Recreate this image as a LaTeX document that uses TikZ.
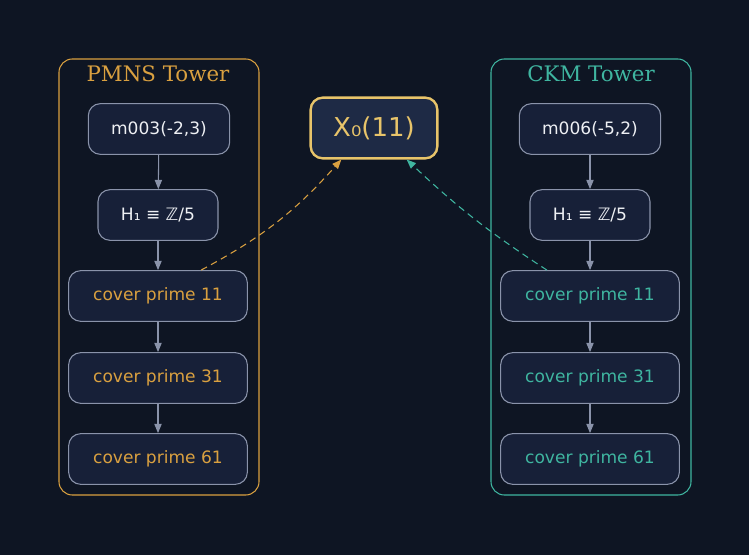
\documentclass[tikz,border=0pt]{standalone}
\usepackage{fontspec}
\setmainfont{DejaVu Sans}
\newfontfamily\titlefont{DejaVu Serif}
\usetikzlibrary{arrows.meta}

\definecolor{bgdark}{HTML}{0E1523}
\definecolor{boxfill}{HTML}{172038}
\definecolor{boxline}{HTML}{8A93AA}
\definecolor{pmnsorange}{HTML}{D9A040}
\definecolor{ckmteal}{HTML}{3FB5A0}
\definecolor{xgold}{HTML}{E8C46A}
\definecolor{xfill}{HTML}{1E2A45}
\definecolor{textwhite}{HTML}{EEF0F4}

\begin{document}
\begin{tikzpicture}[
    x=0.75pt, y=-0.75pt,
    box/.style={rectangle, rounded corners=9pt, draw=boxline, line width=0.8pt, fill=boxfill,
        minimum height=38pt, inner sep=0pt, font=\fontsize{12.8}{15}\selectfont},
    cluster/.style={rounded corners=10pt, line width=0.8pt},
    title/.style={font=\titlefont\fontsize{16}{18}\selectfont},
    arrow/.style={-{Triangle[length=7pt, width=5.5pt]}, draw=boxline, line width=0.8pt},
    link/.style={-{Triangle[length=7pt, width=5.5pt]}, dashed, dash pattern=on 5pt off 3.5pt, line width=0.8pt}
]

\useasboundingbox[fill=bgdark] (0,0) rectangle (749,555);

% Clusters
\draw[cluster, draw=pmnsorange] (59,59) rectangle (259,495);
\node[title, text=pmnsorange] (pmnstitle) at (158,74) {PMNS Tower};
\draw[cluster, draw=ckmteal] (491,59) rectangle (691,495);
\node[title, text=ckmteal] (ckmtitle) at (591,74) {CKM Tower};

% Left tower
\node[box, minimum width=106pt, text=textwhite] (lm) at (159,129) {m003(-2,3)};
\node[box, minimum width=90pt, text=textwhite] (lh) at (158,215) {H₁ ≡ ℤ/5};
\node[box, minimum width=134pt, text=pmnsorange] (lc11) at (158,296) {cover prime 11};
\node[box, minimum width=134pt, text=pmnsorange] (lc31) at (158,378) {cover prime 31};
\node[box, minimum width=134pt, text=pmnsorange] (lc61) at (158,459) {cover prime 61};

% Right tower
\node[box, minimum width=106pt, text=textwhite] (rm) at (590,129) {m006(-5,2)};
\node[box, minimum width=90pt, text=textwhite] (rh) at (590,215) {H₁ ≡ ℤ/5};
\node[box, minimum width=134pt, text=ckmteal] (rc11) at (590,296) {cover prime 11};
\node[box, minimum width=134pt, text=ckmteal] (rc31) at (590,378) {cover prime 31};
\node[box, minimum width=134pt, text=ckmteal] (rc61) at (590,459) {cover prime 61};

% Target
\node[box, minimum width=95pt, minimum height=45.5pt, draw=xgold, line width=1.8pt, fill=xfill,
    text=xgold, font=\fontsize{19.5}{22}\selectfont] (x0) at (374,128) {X₀(11)};

% Tower edges
\draw[arrow] (lm) -- (lh);
\draw[arrow] (lh) -- (lc11);
\draw[arrow] (lc11) -- (lc31);
\draw[arrow] (lc31) -- (lc61);

\draw[arrow] (rm) -- (rh);
\draw[arrow] (rh) -- (rc11);
\draw[arrow] (rc11) -- (rc31);
\draw[arrow] (rc31) -- (rc61);

% Links to X0
\draw[link, pmnsorange] (lc11.31) to[bend right=10] (x0.224);
\draw[link, ckmteal] (rc11.149) to[bend left=5] (x0.316);

\end{tikzpicture}
\end{document}
